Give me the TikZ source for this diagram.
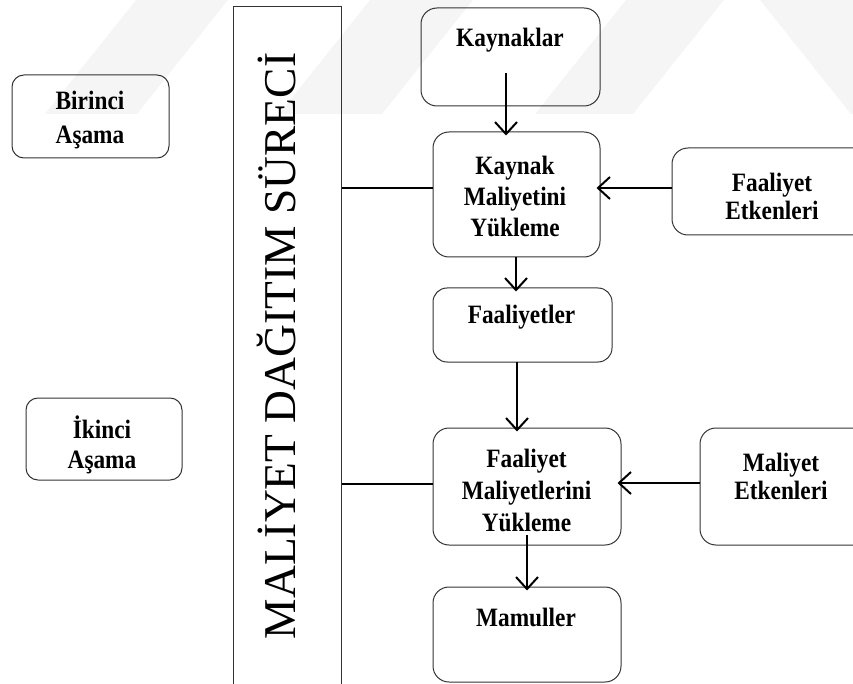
\documentclass[tikz,border=0pt]{standalone}
\usepackage{fontspec}
\setmainfont{Liberation Serif}
\newfontfamily\lblfont[FakeStretch=0.88]{Liberation Serif}
\usetikzlibrary{arrows.meta}
\begin{document}
\begin{tikzpicture}[x=1pt,y=-1pt,
  box/.style={draw=black!80, line width=1pt, rounded corners=14pt, inner sep=0pt},
  lbl/.style={font=\lblfont\fontsize{26.5}{31}\selectfont\bfseries, align=center, inner sep=0pt},
  flow/.style={line width=2pt, -{Straight Barb[length=12pt,width=22pt,line width=2pt]}, shorten >=-4pt},
  link/.style={line width=2pt},
  wm/.style={fill=black!4, draw=none}]
\useasboundingbox (0,0) rectangle (853,684);

% faint background bands
\fill[wm] (136,0) -- (228,0) -- (137,114) -- (45,114) -- cycle;
\fill[wm] (370,0) -- (473,0) -- (382,114) -- (279,114) -- cycle;
\fill[wm] (626,0) -- (724,0) -- (633,114) -- (535,114) -- cycle;
\fill[wm] (760,0) -- (853,0) -- (853,114) -- (851,114) -- cycle;

% process column
\node[draw=black!80, line width=1pt, minimum width=108pt, minimum height=690pt,
      anchor=north west, inner sep=0pt] (proc) at (233,6) {};
\node[rotate=90, anchor=base, inner sep=0pt, font=\fontsize{45.5}{50}\selectfont]
      (proct) at (295,346) {MALİYET DAĞITIM SÜRECİ};

% stage boxes
\node[box, rounded corners=12pt, minimum width=157pt, minimum height=83pt] (st1) at (90.5,116.5) {};
\node[lbl, font=\lblfont\fontsize{26.5}{34}\selectfont\bfseries] (st1t) at (90,120) {Birinci\\Aşama};
\node[box, rounded corners=12pt, minimum width=156pt, minimum height=82pt] (st2) at (104,439) {};
\node[lbl, font=\lblfont\fontsize{26.5}{30}\selectfont\bfseries] (st2t) at (102,445) {İkinci\\Aşama};

% flow boxes
\node[box, rounded corners=16pt, minimum width=179pt, minimum height=98pt] (kay) at (510.5,57) {};
\node[lbl] (kayt) at (510,40) {Kaynaklar};

\node[box, rounded corners=16pt, minimum width=167pt, minimum height=125pt] (kmy) at (516.5,194.5) {};
\node[lbl] (kmyt) at (515,196) {Kaynak\\Maliyetini\\Yükleme};

\node[box, rounded corners=14pt, minimum width=179pt, minimum height=74pt] (faa) at (522.5,325) {};
\node[lbl] (faat) at (521.5,317) {Faaliyetler};

\node[box, rounded corners=16pt, minimum width=188pt, minimum height=117pt] (fmy) at (527,486.5) {};
\node[lbl, font=\lblfont\fontsize{26.5}{32}\selectfont\bfseries] (fmyt) at (526.5,490) {Faaliyet\\Maliyetlerini\\Yükleme};

\node[box, rounded corners=16pt, minimum width=188pt, minimum height=95pt] (mam) at (527,634.5) {};
\node[lbl] (mamt) at (526,617) {Mamuller};

\node[box, rounded corners=16pt, minimum width=198pt, minimum height=87pt] (fet) at (771,191.5) {};
\node[lbl, font=\lblfont\fontsize{26.5}{28}\selectfont\bfseries] (fett) at (772,196.5) {Faaliyet\\Etkenleri};

\node[box, rounded corners=16pt, minimum width=170pt, minimum height=117pt] (met) at (785,486.5) {};
\node[lbl, font=\lblfont\fontsize{26.5}{28}\selectfont\bfseries] (mett) at (781,476.5) {Maliyet\\Etkenleri};

% links from the process column
\draw[link] (proc.east |- 0,188) -- (kmy.west |- 0,188);
\draw[link] (proc.east |- 0,484) -- (fmy.west |- 0,484);

% flow arrows
\coordinate (a1) at (506,73);
\draw[flow] (a1) -- (a1 |- kmy.north);
\coordinate (a2) at (516,257);
\draw[flow] (a2) -- (a2 |- faa.north);
\coordinate (a3) at (517,362);
\draw[flow] (a3) -- (a3 |- fmy.north);
\coordinate (a4) at (527,535);
\draw[flow] (a4) -- (a4 |- mam.north);
\draw[flow] (fet.west |- 0,188) -- (kmy.east |- 0,188);
\draw[flow] (met.west |- 0,483) -- (fmy.east |- 0,483);
\end{tikzpicture}
\end{document}
